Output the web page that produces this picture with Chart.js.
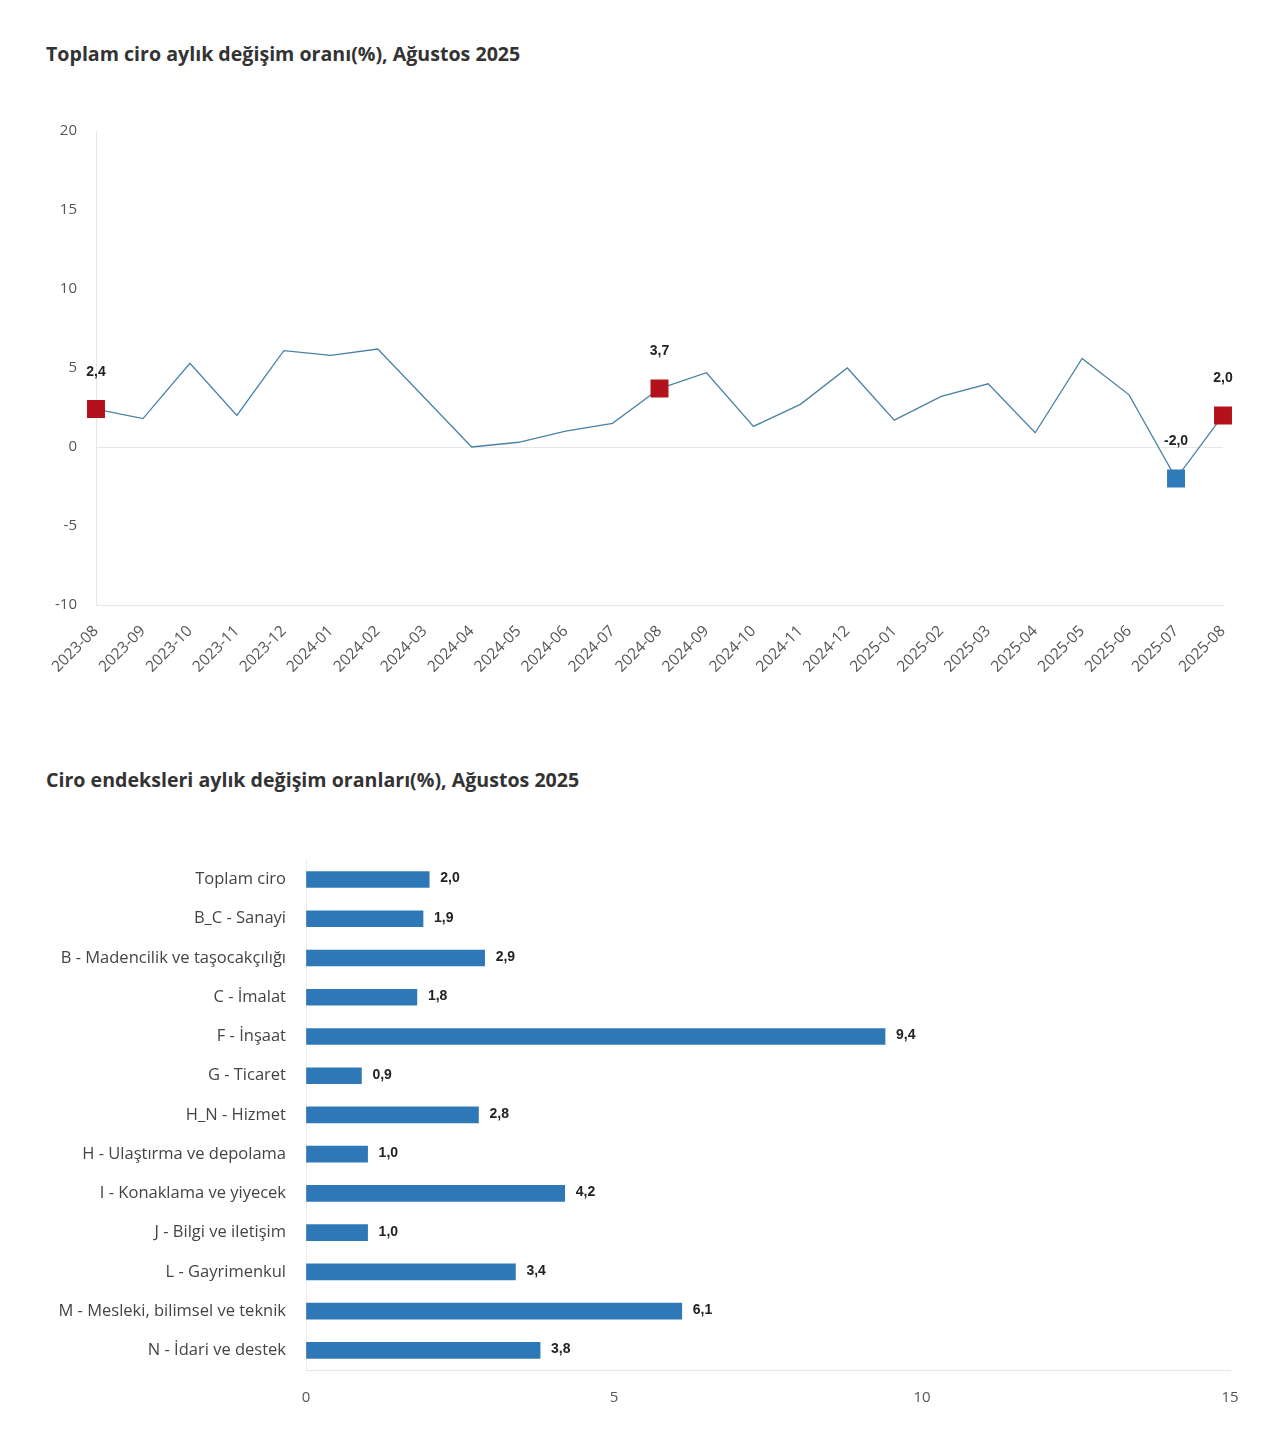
<!DOCTYPE html>
<html>
<head>
<meta charset="utf-8">
<script src="https://cdn.jsdelivr.net/npm/chart.js@4.4.0/dist/chart.umd.min.js"></script>
<style>
  body { margin: 0; background: #fff; width: 1280px; height: 1439px; position: relative; font-family: "Open Sans", sans-serif; }
  .title { position: absolute; left: 46px; font-size: 19.6px; font-weight: 700; color: #333; }
  .box { position: absolute; left: 0; width: 1280px; }
</style>
</head>
<body>
<div class="title" style="top:40px">Toplam ciro aylık değişim oranı(%), Ağustos 2025</div>
<div class="box" style="top:100px;height:600px"><canvas id="chart-line"></canvas></div>
<div class="title" style="top:766px">Ciro endeksleri aylık değişim oranları(%), Ağustos 2025</div>
<div class="box" style="top:830px;height:580px"><canvas id="chart-bar"></canvas></div>
<script>
// Line chart data
const months = ["2023-08", "2023-09", "2023-10", "2023-11", "2023-12", "2024-01", "2024-02", "2024-03",
  "2024-04", "2024-05", "2024-06", "2024-07", "2024-08", "2024-09", "2024-10", "2024-11", "2024-12",
  "2025-01", "2025-02", "2025-03", "2025-04", "2025-05", "2025-06", "2025-07", "2025-08"];
const totalChange = [2.4, 1.8, 5.3, 2.0, 6.1, 5.8, 6.2, 3.1, 0.0, 0.3, 1.0, 1.5, 3.7,
  4.7, 1.3, 2.7, 5.0, 1.7, 3.2, 4.0, 0.9, 5.6, 3.3, -2.0, 2.0];
const markedPoints = [0, 12, 23, 24];
const yTicks = [20, 15, 10, 5, 0, -5, -10];

// Bar chart data
const sectors = ["Toplam ciro", "B_C - Sanayi", "B - Madencilik ve taşocakçılığı", "C - İmalat",
  "F - İnşaat", "G - Ticaret", "H_N - Hizmet", "H - Ulaştırma ve depolama", "I - Konaklama ve yiyecek",
  "J - Bilgi ve iletişim", "L - Gayrimenkul", "M - Mesleki, bilimsel ve teknik", "N - İdari ve destek"];
const sectorChange = [2.0, 1.9, 2.9, 1.8, 9.4, 0.9, 2.8, 1.0, 4.2, 1.0, 3.4, 6.1, 3.8];
const xTicks = [0, 5, 10, 15];

const fmt = v => v.toFixed(1).replace(".", ",");
const gridGray = "#e6e6e6";

const markColor = i => totalChange[i] < 0 ? "#2f7ab8" : "#b3121c";

// Draws value labels above the marked points
const pointLabels = {
  id: "pointLabels",
  afterDatasetsDraw(chart) {
    const ctx = chart.ctx;
    const meta = chart.getDatasetMeta(0);
    ctx.save();
    ctx.font = "bold 14px 'Liberation Sans', Arial, sans-serif";
    ctx.fillStyle = "#222";
    ctx.textAlign = "center";
    ctx.textBaseline = "middle";
    markedPoints.forEach(i => {
      const p = meta.data[i];
      ctx.fillText(fmt(totalChange[i]), p.x, p.y - 37);
    });
    ctx.restore();
  }
};

// Draws value labels at the end of bars
const barLabels = {
  id: "barLabels",
  afterDatasetsDraw(chart) {
    const ctx = chart.ctx;
    const meta = chart.getDatasetMeta(0);
    ctx.save();
    ctx.font = "bold 14px 'Liberation Sans', Arial, sans-serif";
    ctx.fillStyle = "#222";
    ctx.textAlign = "left";
    ctx.textBaseline = "middle";
    meta.data.forEach((bar, i) => {
      ctx.fillText(fmt(sectorChange[i]), bar.x + 11, bar.y - 1);
    });
    ctx.restore();
  }
};

new Chart(document.getElementById("chart-line"), {
  type: "line",
  data: {
    labels: months,
    datasets: [{
      data: totalChange,
      borderColor: "#4a82a6",
      borderWidth: 1.3,
      tension: 0,
      pointStyle: "rect",
      pointRadius: ctx => markedPoints.includes(ctx.dataIndex) ? 12.7 : 0,
      pointHoverRadius: 0,
      pointBackgroundColor: ctx => markColor(ctx.dataIndex),
      pointBorderColor: ctx => markColor(ctx.dataIndex),
      pointBorderWidth: 0
    }]
  },
  options: {
    responsive: true,
    maintainAspectRatio: false,
    animation: false,
    layout: { padding: { left: 0, right: 57, top: 31, bottom: 0 } },
    plugins: { legend: { display: false }, tooltip: { enabled: false } },
    scales: {
      x: {
        offset: false,
        grid: { color: "transparent", drawTicks: false },
        border: { color: gridGray },
        ticks: {
          color: "#555", font: { family: "Open Sans", size: 15.5 },
          maxRotation: 45, minRotation: 45, autoSkip: false, padding: 17
        },
        afterFit: s => { s.height = 95; }
      },
      y: {
        min: -10, max: 20,
        afterBuildTicks: s => { s.ticks = yTicks.map(v => ({ value: v })); },
        grid: { color: c => c.tick && c.tick.value === 0 ? gridGray : "transparent", drawTicks: false },
        border: { color: gridGray },
        ticks: { color: "#555", font: { family: "Open Sans", size: 15 }, padding: 19 },
        afterFit: s => { s.width = 96; }
      }
    }
  },
  plugins: [pointLabels]
});

new Chart(document.getElementById("chart-bar"), {
  type: "bar",
  data: {
    labels: sectors,
    datasets: [{
      data: sectorChange,
      backgroundColor: "#2f78b7",
      barThickness: 16
    }]
  },
  options: {
    indexAxis: "y",
    responsive: true,
    maintainAspectRatio: false,
    animation: false,
    layout: { padding: { left: 0, right: 50, top: 27, bottom: 0 } },
    plugins: { legend: { display: false }, tooltip: { enabled: false } },
    scales: {
      x: {
        min: 0, max: 15,
        afterBuildTicks: s => { s.ticks = xTicks.map(v => ({ value: v })); },
        grid: { color: "transparent", drawTicks: false },
        border: { color: gridGray },
        ticks: { color: "#555", font: { family: "Open Sans", size: 15 }, padding: 19 },
        afterFit: s => { s.height = 40; }
      },
      y: {
        grid: { color: "transparent", drawTicks: false },
        border: { color: "#eeeeee" },
        ticks: { color: "#444", font: { family: "Open Sans", size: 16.5 }, padding: 20, autoSkip: false },
        afterFit: s => { s.width = 306; }
      }
    }
  },
  plugins: [barLabels]
});
</script>
</body>
</html>
